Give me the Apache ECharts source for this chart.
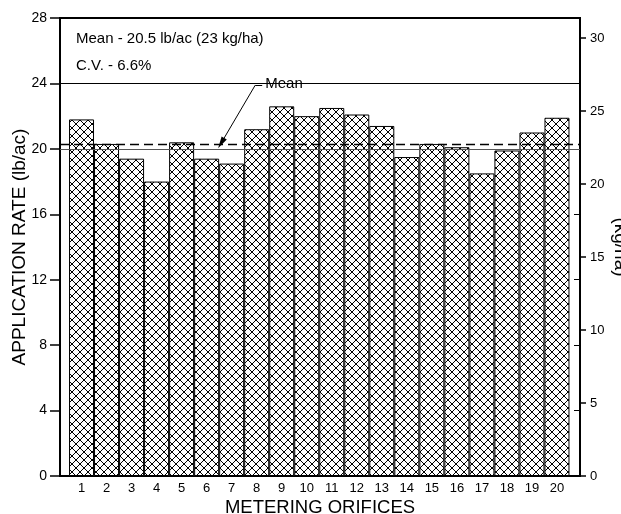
<!DOCTYPE html>
<html><head><meta charset="utf-8">
<script src="https://cdn.jsdelivr.net/npm/echarts@6/dist/echarts.min.js"></script>
<style>html,body{margin:0;padding:0;background:#fff}#c{width:621px;height:514px}</style>
</head><body><div id="c"></div>
<script>
const categories = [1,2,3,4,5,6,7,8,9,10,11,12,13,14,15,16,17,18,19,20];
const rateLb = [21.8,20.3,19.4,18.0,20.4,19.4,19.1,21.2,22.6,22.0,22.5,22.1,21.4,19.5,20.3,20.1,18.5,19.9,21.0,21.9];
const meanLine = 20.3;
const refLine20 = 20;
const boxLine = 24;
const lbMax = 28;
const lbPerKg = 1.12085; // kg/ha per lb/ac
const infoLines = ['Mean - 20.5 lb/ac (23 kg/ha)', 'C.V. - 6.6%'];
const meanLabel = 'Mean';
const arrowPath = [[8.22, 23.91], [7.94, 23.89], [6.58, 20.35]];

const FONT = '"Liberation Sans", Arial, Helvetica, sans-serif';

// cross-hatch pattern
const pc = document.createElement('canvas');
pc.width = 8; pc.height = 8;
const g = pc.getContext('2d');
g.fillStyle = '#fff'; g.fillRect(0,0,8,8);
g.strokeStyle = '#000'; g.lineWidth = 1;
g.beginPath();
g.moveTo(-1,-1); g.lineTo(9,9);
g.moveTo(9,-1); g.lineTo(-1,9);
g.stroke();

const chart = echarts.init(document.getElementById('c'), null, {renderer:'canvas'});
chart.setOption({
  animation: false,
  backgroundColor: '#fff',
  textStyle: {fontFamily: FONT, color: '#000'},
  grid: {left: 60, right: 41, top: 18, bottom: 38, outerBoundsMode: 'none', containLabel: false, show: true, borderColor: '#000', borderWidth: 2, backgroundColor: 'transparent'},
  xAxis: {
    type: 'value', min: 0.14, max: 20.92,
    name: 'METERING ORIFICES', nameLocation: 'middle', nameGap: 22, nameMoveOverlap: false,
    nameTextStyle: {fontSize: 18.5, color: '#000', fontFamily: FONT},
    axisLine: {show: true, lineStyle: {color: '#000', width: 2}},
    axisTick: {show: false},
    splitLine: {show: false},
    axisLabel: {customValues: categories, fontSize: 13, color: '#000', margin: 6, fontFamily: FONT}
  },
  yAxis: [
    {
      type: 'value', min: 0, max: lbMax, interval: 4, position: 'left',
      name: 'APPLICATION RATE (lb/ac)', nameLocation: 'middle', nameGap: 31, nameRotate: 90, nameMoveOverlap: false,
      nameTextStyle: {fontSize: 19, color: '#000', fontFamily: FONT},
      axisLine: {show: true, lineStyle: {color: '#000', width: 2}},
      axisTick: {show: true, inside: false, length: 10, lineStyle: {color: '#000', width: 1.5}},
      axisLabel: {fontSize: 14, color: '#000', margin: 13, fontFamily: FONT},
      splitLine: {show: false}
    },
    {
      type: 'value', min: 0, max: lbMax * lbPerKg, interval: 5, position: 'right',
      name: '(kg/ha)', nameLocation: 'middle', nameGap: 31, nameRotate: -90, nameMoveOverlap: false,
      nameTextStyle: {fontSize: 19, color: '#000', fontFamily: FONT},
      axisLine: {show: true, lineStyle: {color: '#000', width: 2}},
      axisTick: {show: true, inside: false, length: 6, lineStyle: {color: '#000', width: 1.5}},
      axisLabel: {fontSize: 13, color: '#000', margin: 10, fontFamily: FONT, showMaxLabel: false},
      splitLine: {show: false}
    },
    {
      type: 'value', min: 0, max: lbMax, interval: 4, position: 'right',
      axisLine: {show: false},
      axisTick: {show: true, inside: true, length: 6, lineStyle: {color: '#000', width: 1}},
      axisLabel: {show: false},
      splitLine: {show: false}
    }
  ],
  graphic: [
    {type: 'text', left: 76, top: 31, style: {text: infoLines[0], font: '15px ' + FONT, fill: '#000'}},
    {type: 'text', left: 76, top: 58, style: {text: infoLines[1], font: '15px ' + FONT, fill: '#000'}}
  ],
  series: [
    {
      type: 'bar', yAxisIndex: 0, barWidth: 25,
      data: categories.map((c, i) => [c, rateLb[i]]),
      itemStyle: {color: {image: pc, repeat: 'repeat'}, borderColor: '#000', borderWidth: 1},
      markLine: {
        silent: true, symbol: 'none', label: {show: false},
        data: [
          {yAxis: boxLine, lineStyle: {color: '#000', width: 1, type: 'solid'}},
          {yAxis: refLine20, lineStyle: {color: '#555', width: 1, type: 'solid'}},
          {yAxis: meanLine, lineStyle: {color: '#000', width: 1.3, type: [9, 5]}}
        ]
      }
    },
    {
      type: 'line', yAxisIndex: 0, data: [],
      markLine: {
        silent: true, label: {show: false},
        data: [
          [{coord: arrowPath[0], symbol: 'none'}, {coord: arrowPath[1], symbol: 'none'}],
          [{coord: arrowPath[1], symbol: 'none'}, {coord: arrowPath[2], symbol: 'triangle', symbolSize: [6, 12]}]
        ],
        lineStyle: {color: '#000', width: 1, type: 'solid'}
      },
      markPoint: {
        silent: true, symbol: 'rect', symbolSize: 1, itemStyle: {color: 'transparent'},
        data: [{coord: [arrowPath[0][0] + 0.1, arrowPath[0][1] + 0.05], label: {show: true, formatter: meanLabel, position: 'right', distance: 0, fontSize: 15, color: '#000', fontFamily: FONT}}]
      }
    }
  ]
});
</script></body></html>
